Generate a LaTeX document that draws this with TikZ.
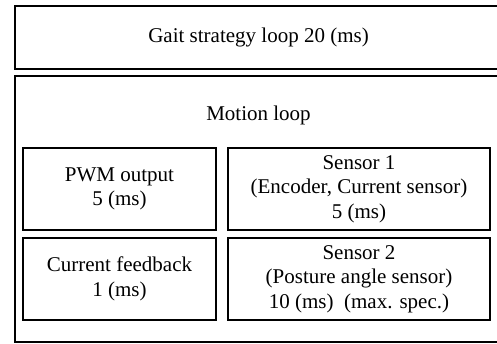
\documentclass[tikz,border=0pt]{standalone}
\usepackage{fontspec}
\setmainfont{Liberation Serif}
\begin{document}
\begin{tikzpicture}[x=1pt,y=-1pt,
  outerbox/.style={draw=black,line width=1.4pt,inner sep=0pt},
  innerbox/.style={draw=black,line width=1.7pt,inner sep=0pt,align=center,
    font=\fontsize{21}{24.5}\selectfont},
  txt/.style={inner sep=0pt,font=\fontsize{21}{24.5}\selectfont}]
\useasboundingbox (0,0) rectangle (497,343);
\clip (0,0) rectangle (497,343);
\node[outerbox,minimum width=500pt,minimum height=63pt] (gait) at (265,37.5) {};
\node[txt] (gaitlabel) at (258.5,37.5) {Gait strategy loop 20 (ms)};
\node[outerbox,minimum width=500pt,minimum height=266pt] (motion) at (265,209) {};
\node[txt] (motionlabel) at (258.5,115) {Motion loop};
\node[innerbox,minimum width=193pt,minimum height=82pt] (pwm) at (119.5,189) {PWM output\\5 (ms)};
\node[innerbox,minimum width=262pt,minimum height=82pt] (s1) at (359,189) {Sensor 1\\(Encoder, Current sensor)\\5 (ms)};
\node[innerbox,minimum width=193pt,minimum height=82pt] (cur) at (119.5,279) {Current feedback\\1 (ms)};
\node[innerbox,minimum width=262pt,minimum height=82pt] (s2) at (359,279) {Sensor 2\\(Posture angle sensor)\\10 (ms)\ \ (max. spec.)};
\end{tikzpicture}
\end{document}
